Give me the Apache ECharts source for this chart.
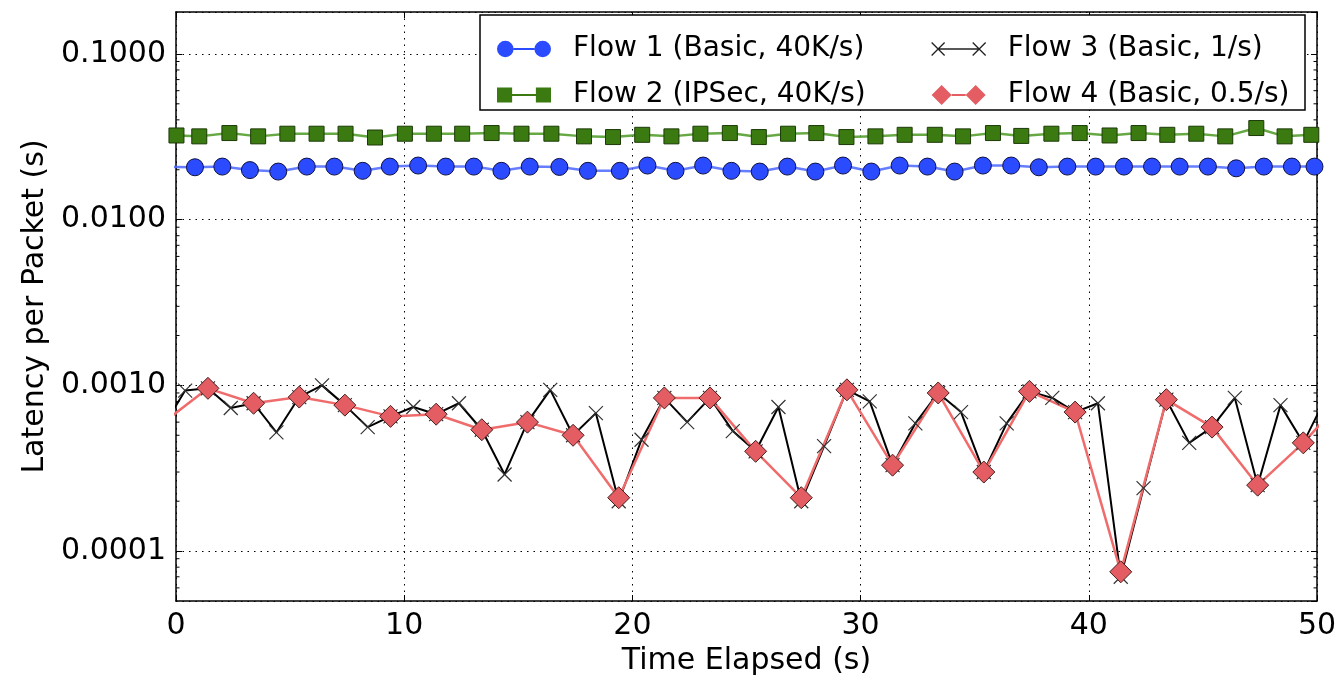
<!DOCTYPE html>
<html>
<head>
<meta charset="utf-8">
<script src="https://cdn.jsdelivr.net/npm/echarts@6/dist/echarts.min.js"></script>
<style>
  html, body { margin: 0; padding: 0; background: #fff; }
  #chart { width: 1340px; height: 675px; }
</style>
</head>
<body>
<div id="chart"></div>
<script>
// Per-packet latency of four flows over time (log scale).
const flow1Time = [-0.4, 0.83, 2.03, 3.24, 4.48, 5.73, 6.94, 8.18, 9.37, 10.61, 11.82, 13.05, 14.26, 15.5, 16.8, 18.05, 19.45, 20.66, 21.89, 23.1, 24.34, 25.58, 26.79, 28.02, 29.23, 30.47, 31.71, 32.93, 34.12, 35.36, 36.6, 37.81, 39.06, 40.3, 41.54, 42.77, 43.98, 45.22, 46.46, 47.67, 48.9, 49.89];
const flow1Latency = [0.0208, 0.0207, 0.0209, 0.0199, 0.0195, 0.0209, 0.0209, 0.0197, 0.0209, 0.0212, 0.0209, 0.0209, 0.0197, 0.0209, 0.0208, 0.0197, 0.0197, 0.0212, 0.0197, 0.0212, 0.0197, 0.0195, 0.0209, 0.0195, 0.0212, 0.0195, 0.0212, 0.0209, 0.0195, 0.0212, 0.0212, 0.0207, 0.0209, 0.0209, 0.0209, 0.0209, 0.0209, 0.0209, 0.0204, 0.0209, 0.0209, 0.0209];

const flow2Time = [0.02, 1.02, 2.34, 3.6, 4.88, 6.16, 7.43, 8.72, 10.03, 11.3, 12.54, 13.83, 15.14, 16.45, 17.88, 19.15, 20.43, 21.71, 22.98, 24.27, 25.54, 26.82, 28.06, 29.38, 30.65, 31.93, 33.25, 34.49, 35.8, 37.04, 38.36, 39.6, 40.91, 42.18, 43.44, 44.71, 45.98, 47.34, 48.58, 49.75];
const flow2Latency = [0.0322, 0.0318, 0.0333, 0.0318, 0.033, 0.033, 0.033, 0.0313, 0.033, 0.033, 0.033, 0.0333, 0.033, 0.033, 0.0318, 0.0315, 0.0325, 0.0318, 0.033, 0.0333, 0.0315, 0.033, 0.0333, 0.0315, 0.0318, 0.0325, 0.0325, 0.0318, 0.0333, 0.032, 0.033, 0.0333, 0.0322, 0.0333, 0.0325, 0.033, 0.0318, 0.0357, 0.0318, 0.0325];

const flow3Time = [-0.6, 0.4, 1.4, 2.4, 3.4, 4.4, 5.4, 6.4, 7.4, 8.4, 9.4, 10.4, 11.4, 12.4, 13.4, 14.4, 15.4, 16.4, 17.4, 18.4, 19.4, 20.4, 21.4, 22.4, 23.4, 24.4, 25.4, 26.4, 27.4, 28.4, 29.4, 30.4, 31.4, 32.4, 33.4, 34.4, 35.4, 36.4, 37.4, 38.4, 39.4, 40.4, 41.4, 42.4, 43.4, 44.4, 45.4, 46.4, 47.4, 48.4, 49.4, 50.4];
const flow3Latency = [0.00055, 0.00093, 0.00096, 0.00073, 0.00078, 0.00052, 0.00085, 0.001, 0.00076, 0.00056, 0.00065, 0.00074, 0.00067, 0.00078, 0.00054, 0.00029, 0.0006, 0.00094, 0.0005, 0.00068, 0.0002, 0.00047, 0.00084, 0.0006, 0.00084, 0.00053, 0.0004, 0.00074, 0.0002, 0.00043, 0.00094, 0.0008, 0.00033, 0.00059, 0.0009, 0.00069, 0.0003, 0.00059, 0.00092, 0.00084, 0.00069, 0.00078, 0.00007, 0.00024, 0.00082, 0.00045, 0.00056, 0.00084, 0.00025, 0.00076, 0.00045, 0.00085];

const flow4Time = [-0.6, 1.4, 3.4, 5.4, 7.4, 9.4, 11.4, 13.4, 15.4, 17.4, 19.4, 21.4, 23.4, 25.4, 27.4, 29.4, 31.4, 33.4, 35.4, 37.4, 39.4, 41.4, 43.4, 45.4, 47.4, 49.4, 51.4];
const flow4Latency = [0.00059, 0.00096, 0.00078, 0.00085, 0.00076, 0.00065, 0.00067, 0.00054, 0.0006, 0.0005, 0.00021, 0.00084, 0.00084, 0.0004, 0.00021, 0.00094, 0.00033, 0.0009, 0.0003, 0.00092, 0.00069, 0.000075, 0.00082, 0.00056, 0.00025, 0.00045, 0.0009];

const seriesNames = ['Flow 1 (Basic, 40K/s)', 'Flow 2 (IPSec, 40K/s)', 'Flow 3 (Basic, 1/s)', 'Flow 4 (Basic, 0.5/s)'];
const xTicks = [0, 10, 20, 30, 40, 50];
const yMajorTicks = [0.0001, 0.001, 0.01, 0.1];

const X_MIN = 0, X_MAX = 50, Y_MIN = 0.00005, Y_MAX = 0.179;
const FONT = 'DejaVu Sans';

// log-axis minor ticks: 2..9 within each decade
const yMinorTicks = [];
yMajorTicks.concat([0.00001]).forEach(function (d) {
  for (let m = 2; m <= 9; m++) {
    const v = +(m * d).toPrecision(3);
    if (v > Y_MIN && v < Y_MAX) yMinorTicks.push(v);
  }
});

const pairs = (t, v) => t.map((x, i) => [x, v[i]]);

// legend icons: marker - line - marker, drawn in a 54 x 20 box
const ICON_CIRCLES = 'path://M1,10A8,8,0,1,1,17,10A8,8,0,1,1,1,10ZM17,9H37V11H17ZM37,10A8,8,0,1,1,53,10A8,8,0,1,1,37,10Z';
const ICON_SQUARES = 'path://M2,3H16V17H2ZM16,9H38V11H16ZM38,3H52V17H38Z';
const ICON_CROSSES = 'path://M2,4L14,16M14,4L2,16M8,10H46M40,4L52,16M52,4L40,16';
const ICON_DIAMONDS = 'path://M0,10L10,0L20,10L10,20ZM20,9H34V11H20ZM34,10L44,0L54,10L44,20Z';
const CROSS = 'path://M0,0L10,10M10,0L0,10';

const chart = echarts.init(document.getElementById('chart'), null, { renderer: 'canvas' });

const axisLineStyle = { color: '#000', width: 1.5 };
const gridDots = { color: '#000', width: 1, type: [1.5, 5] };
const legendText = { fontFamily: FONT, fontSize: 28, color: '#000', padding: [0, 0, 0, 17] };

chart.setOption({
  animation: false,
  backgroundColor: '#fff',
  textStyle: { fontFamily: FONT },
  grid: { left: 176, right: 23, top: 12, bottom: 74, containLabel: false, outerBoundsMode: 'none' },
  xAxis: [{
    type: 'value', min: X_MIN, max: X_MAX, interval: 10, position: 'bottom',
    name: 'Time Elapsed (s)', nameLocation: 'middle', nameGap: 40,
    nameTextStyle: { fontFamily: FONT, fontSize: 30, color: '#000' },
    axisLine: { show: true, onZero: false, lineStyle: axisLineStyle },
    axisTick: { show: true, inside: true, length: 6, lineStyle: { color: '#000', width: 1 } },
    axisLabel: { fontFamily: FONT, fontSize: 30, color: '#000', margin: 10,
      formatter: v => (xTicks.indexOf(v) >= 0 ? String(v) : '') },
    splitLine: { show: true, lineStyle: gridDots }
  }, {
    type: 'value', min: X_MIN, max: X_MAX, interval: 10, position: 'top',
    axisLine: { show: true, onZero: false, lineStyle: axisLineStyle },
    axisTick: { show: true, inside: true, length: 6, lineStyle: { color: '#000', width: 1 } },
    axisLabel: { show: false }, splitLine: { show: false }
  }],
  yAxis: [{
    type: 'log', logBase: 10, min: Y_MIN, max: Y_MAX, position: 'left',
    name: 'Latency per Packet (s)', nameLocation: 'middle', nameGap: 126, nameRotate: 90,
    nameTextStyle: { fontFamily: FONT, fontSize: 30, color: '#000' },
    axisLine: { show: true, onZero: false, lineStyle: axisLineStyle },
    axisTick: { show: true, inside: true, length: 6, lineStyle: { color: '#000', width: 1 } },
    axisLabel: { fontFamily: FONT, fontSize: 30, color: '#000', margin: 10,
      showMinLabel: false, showMaxLabel: false,
      formatter: v => v.toFixed(4) },
    splitLine: { show: true, lineStyle: gridDots }
  }, {
    type: 'log', logBase: 10, min: Y_MIN, max: Y_MAX, position: 'right',
    axisLine: { show: true, onZero: false, lineStyle: axisLineStyle },
    axisTick: { show: true, inside: true, length: 6, lineStyle: { color: '#000', width: 1 } },
    axisLabel: { show: false }, splitLine: { show: false }
  }],
  legend: [{
    orient: 'vertical', left: 492, top: 30, itemGap: 18,
    itemWidth: 54, itemHeight: 20,
    selectedMode: false,
    textStyle: legendText,
    data: [
      { name: seriesNames[0], icon: ICON_CIRCLES, itemStyle: { borderWidth: 0 } },
      { name: seriesNames[1], icon: ICON_SQUARES, itemStyle: { borderWidth: 0 } }
    ],
    z: 6
  }, {
    orient: 'vertical', left: 926, top: 30, itemGap: 18,
    itemWidth: 54, itemHeight: 20,
    selectedMode: false,
    textStyle: legendText,
    data: [
      { name: seriesNames[2], icon: ICON_CROSSES, itemStyle: { color: '#000', borderColor: '#222', borderWidth: 1.3 } },
      { name: seriesNames[3], icon: ICON_DIAMONDS, itemStyle: { borderWidth: 0 } }
    ],
    z: 6
  }],
  graphic: [{
    type: 'rect', z: 5,
    shape: { x: 480, y: 15, width: 825, height: 95 },
    style: { fill: '#fff', stroke: '#000', lineWidth: 1.5 }
  }],
  series: [
    {
      name: seriesNames[0], type: 'line', data: pairs(flow1Time, flow1Latency),
      symbol: 'circle', symbolSize: 17, showAllSymbol: true, clip: true,
      lineStyle: { color: '#4a66ff', width: 2.5, opacity: 0.85 },
      itemStyle: { color: '#2a4bff', borderColor: '#101040', borderWidth: 1 },
      emphasis: { disabled: true }, z: 2
    },
    {
      name: seriesNames[1], type: 'line', data: pairs(flow2Time, flow2Latency),
      symbol: 'rect', symbolSize: 15, showAllSymbol: true, clip: true,
      lineStyle: { color: '#55a030', width: 2.5, opacity: 0.9 },
      itemStyle: { color: '#3a7a10', borderColor: '#1c3a08', borderWidth: 1 },
      emphasis: { disabled: true }, z: 2
    },
    {
      name: seriesNames[2], type: 'line', data: pairs(flow3Time, flow3Latency),
      symbol: CROSS, symbolSize: 14, showAllSymbol: true, clip: true,
      lineStyle: { color: '#000', width: 2 },
      itemStyle: { color: '#000', borderColor: '#333', borderWidth: 1.2 },
      emphasis: { disabled: true }, z: 2
    },
    {
      name: seriesNames[3], type: 'line', data: pairs(flow4Time, flow4Latency),
      symbol: 'diamond', symbolSize: 22, showAllSymbol: true, clip: true,
      lineStyle: { color: '#f06b6b', width: 2.5 },
      itemStyle: { color: '#e35d62', borderColor: '#4a2020', borderWidth: 1 },
      emphasis: { disabled: true }, z: 2
    },
    {
      // minor log ticks on both vertical edges
      type: 'custom', silent: true, z: 1, clip: false,
      data: yMinorTicks.map(v => [X_MIN, v]),
      renderItem: function (params, api) {
        const cs = params.coordSys;
        const y = api.coord([X_MIN, api.value(1)])[1];
        return {
          type: 'group',
          children: [
            { type: 'line', shape: { x1: cs.x, y1: y, x2: cs.x + 3.5, y2: y }, style: { stroke: '#000', lineWidth: 1 } },
            { type: 'line', shape: { x1: cs.x + cs.width, y1: y, x2: cs.x + cs.width - 3.5, y2: y }, style: { stroke: '#000', lineWidth: 1 } }
          ]
        };
      }
    }
  ]
});
</script>
</body>
</html>
